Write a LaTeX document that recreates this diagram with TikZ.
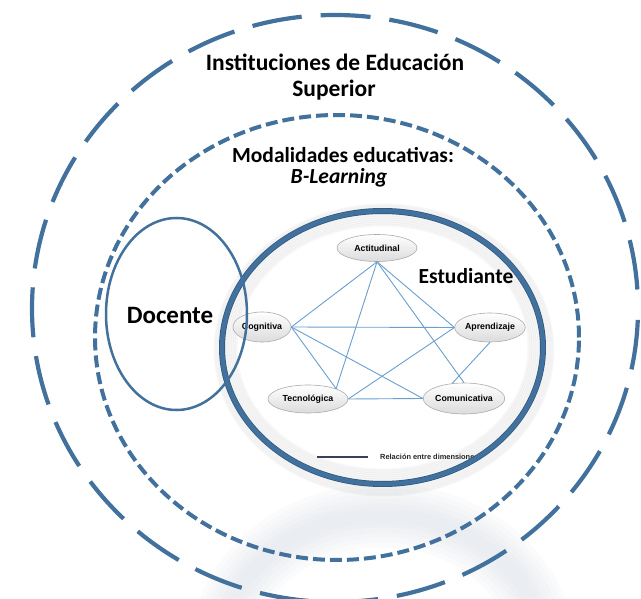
\documentclass[tikz,border=0pt]{standalone}
\usepackage{fontspec}
\setmainfont{Carlito}
\newfontfamily\dimfont{Liberation Sans}
\usetikzlibrary{shapes.geometric}
\definecolor{ringblue}{HTML}{41719C}
\definecolor{ringdark}{HTML}{2E587E}
\definecolor{linkblue}{HTML}{6A9FD0}
\definecolor{legendline}{HTML}{3B3F5C}
\definecolor{haze}{HTML}{C4CCD6}
\tikzset{
  dim/.style={ellipse, draw=gray!65, line width=0.6pt, top color=white,
    bottom color=gray!28, inner sep=0pt,
    font=\dimfont\bfseries\fontsize{8.8}{10}\selectfont, text=black},
  link/.style={draw=linkblue, line width=0.9pt},
  bigtext/.style={font=\bfseries\fontsize{22}{26}\selectfont, text=black},
  outerdash/.style={draw=ringblue, line width=4.2pt, dash pattern=on 50pt off 19pt, dash phase=50pt},
  innerdash/.style={draw=ringblue, line width=4pt, dash pattern=on 12pt off 5pt},
}
\begin{document}
\begin{tikzpicture}[x=1pt,y=-1pt]
\useasboundingbox (0,0) rectangle (641,599);
\clip (0,0) rectangle (641,599);

% soft reflection below the student circle
\foreach \w in {64,54,44,34,24,14}
  \draw[line width=\w, draw=haze, opacity=0.07]
    (382.5,652) ellipse [x radius=160.5pt, y radius=136.5pt];

% institutional and modality rings
\draw[outerdash] (335,308.5) ellipse [x radius=303pt, y radius=293.5pt];
\draw[innerdash] (337,337.5) ellipse [x radius=242pt, y radius=222.5pt];

% student circle: soft drop shadow, fill, inner glow
\foreach \d in {1,2,...,9}
  \draw[line width=2, draw=black, opacity=0.022]
    (384,350) ellipse [x radius=160.5pt+\d pt, y radius=136.5pt+\d pt];
\fill[white] (382.5,347.5) ellipse [x radius=160.5pt, y radius=136.5pt];
\begin{scope}
  \clip (382.5,347.5) ellipse [x radius=160.5pt, y radius=136.5pt];
  \foreach \d in {2,4,...,14}
    \draw[line width=3, draw=black, opacity=0.03]
      (382.5,347.5) ellipse [x radius=160.5pt-\d pt, y radius=136.5pt-\d pt];
  % legend
  \coordinate (lgA) at (317,457);
  \coordinate (lgB) at (368,457);
  \draw[legendline, line width=1.4pt] (lgA) -- (lgB);
  \node[anchor=west, inner sep=0pt, font=\dimfont\bfseries\fontsize{7.4}{8}\selectfont,
    text=black!85] (legend) at (380,457) {Relación entre dimensiones};
\end{scope}

% dimensions
\node[dim, minimum width=80pt, minimum height=27pt] (ac) at (377,248) {Actitudinal};
\node[dim, minimum width=61pt, minimum height=29pt] (ap) at (490,327.5) {Aprendizaje};
\node[dim, minimum width=58pt, minimum height=30pt] (co) at (262,327) {Cognitiva};
\node[dim, minimum width=80pt, minimum height=28pt] (te) at (308,399) {Tecnológica};
\node[dim, minimum width=79pt, minimum height=31pt] (cm) at (464,398.5) {Comunicativa};

% relations between dimensions
\draw[link] (ac.south) -- (co.east);
\draw[link] (ac.south) -- (te.20);
\draw[link] (ac.south) -- (cm.north);
\draw[link] (ac.south) -- (ap.west);
\draw[link] (co.east) -- (ap.west);
\draw[link] (co.east) -- (te.20);
\draw[link] (co.east) -- (cm.west);
\draw[link] (te.east) -- (cm.west);
\draw[link] (te.east) -- (ap.west);
\draw[link] (ap.south) -- (cm.128);

% student ring
\draw[ringdark, line width=6pt] (382.5,347.5) ellipse [x radius=160.5pt, y radius=136.5pt];
\draw[ringblue, line width=4.6pt] (382.5,347.5) ellipse [x radius=160.5pt, y radius=136.5pt];

% teacher ellipse
\draw[ringblue, line width=2.5pt] (176.5,314) ellipse [x radius=70.5pt, y radius=96pt];

% labels
\node[bigtext, font=\bfseries\fontsize{23.5}{26}\selectfont] (ies1) at (335,62) {Instituciones de Educación};
\node[bigtext, font=\bfseries\fontsize{23.5}{26}\selectfont] (ies2) at (334,90) {Superior};
\node[bigtext, font=\bfseries\fontsize{21.5}{26}\selectfont] (mod1) at (343,155) {Modalidades educativas:};
\node[bigtext, font=\bfseries\itshape\fontsize{21.5}{26}\selectfont] (mod2) at (339,178) {B-Learning};
\node[bigtext, font=\bfseries\fontsize{21.5}{26}\selectfont] (est) at (466,276) {Estudiante};
\node[bigtext, font=\bfseries\fontsize{25}{26}\selectfont] (doc) at (170,315) {Docente};
\end{tikzpicture}
\end{document}
